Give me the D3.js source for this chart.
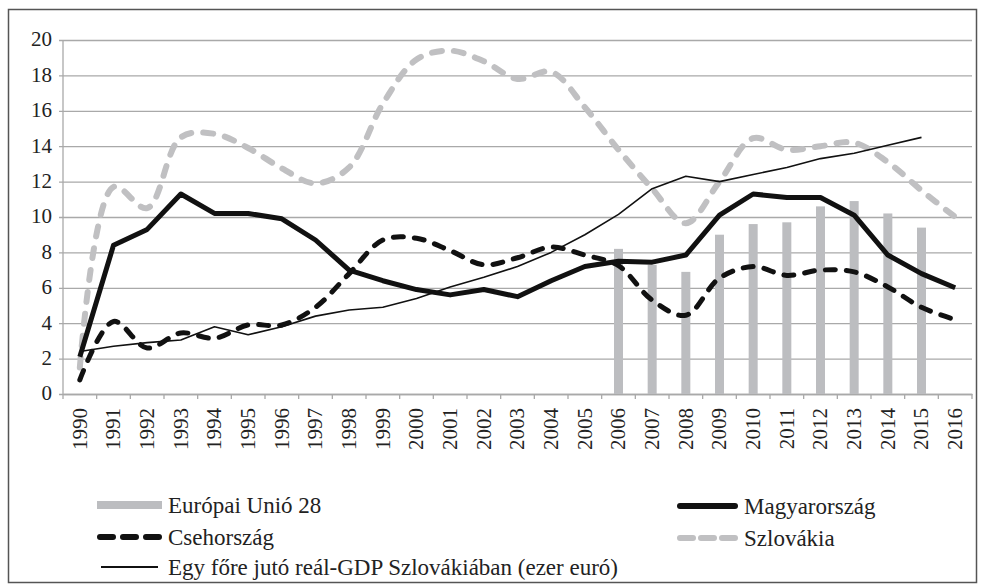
<!DOCTYPE html>
<html>
<head>
<meta charset="utf-8">
<script src="https://cdn.jsdelivr.net/npm/d3@7"></script>
<style>
  html, body { margin: 0; padding: 0; background: #fff; }
  svg { display: block; }
  svg text { font-family: "Liberation Serif", "DejaVu Serif", serif; fill: #222; }
</style>
</head>
<body>
<svg id="chart" width="982" height="587"></svg>
<script>
const years = ["1990","1991","1992","1993","1994","1995","1996","1997","1998","1999","2000","2001","2002","2003","2004","2005","2006","2007","2008","2009","2010","2011","2012","2013","2014","2015","2016"];
const yTicks = [0, 2, 4, 6, 8, 10, 12, 14, 16, 18, 20];

const euYears = ["2006","2007","2008","2009","2010","2011","2012","2013","2014","2015"];
const euValues = [8.2, 7.3, 6.9, 9.0, 9.6, 9.7, 10.6, 10.9, 10.2, 9.4];

const magyar = [2.1, 8.4, 9.3, 11.3, 10.2, 10.2, 9.9, 8.7, 7.0, 6.4, 5.9, 5.6, 5.9, 5.5, 6.4, 7.2, 7.5, 7.45, 7.85, 10.1, 11.3, 11.1, 11.1, 10.1, 7.85, 6.8, 6.0];
const cseh = [0.8, 4.1, 2.6, 3.45, 3.15, 3.9, 3.9, 4.9, 6.8, 8.7, 8.8, 8.1, 7.3, 7.7, 8.3, 7.85, 7.25, 5.3, 4.45, 6.55, 7.2, 6.7, 7.0, 6.9, 6.05, 4.9, 4.2];
const szlovakia = [1.5, 11.7, 10.5, 14.5, 14.7, 13.9, 12.75, 11.9, 12.8, 16.4, 18.9, 19.4, 18.8, 17.8, 18.2, 16.2, 13.8, 11.6, 9.65, 12.0, 14.45, 13.8, 14.0, 14.2, 13.1, 11.5, 10.0];
const gdpYears = years.slice(0, 26);
const gdp = [2.4, 2.7, 2.9, 3.05, 3.8, 3.35, 3.8, 4.4, 4.75, 4.9, 5.4, 6.05, 6.6, 7.2, 8.0, 9.0, 10.15, 11.6, 12.3, 12.0, 12.4, 12.8, 13.3, 13.6, 14.05, 14.5];

const legendLeft = ["Európai Unió 28", "Csehország", "Egy főre jutó reál-GDP Szlovákiában (ezer euró)"];
const legendRight = ["Magyarország", "Szlovákia"];

const svg = d3.select("#chart");
const X0 = 63, X1 = 972, Y0 = 394, Y1 = 40;
const gridColor = "#a9a9a9";

// frame
svg.append("rect").attr("x", 8.5).attr("y", 9.5).attr("width", 968).attr("height", 573)
  .attr("fill", "none").attr("stroke", "#555").attr("stroke-width", 1.5);

const x = d3.scaleBand().domain(years).range([X0, X1]).paddingInner(0).paddingOuter(0);
const y = d3.scaleLinear().domain([0, 20]).range([Y0, Y1]);

// y axis with gridlines
const yAxis = svg.append("g").attr("transform", `translate(${X0},0)`)
  .call(d3.axisLeft(y).tickValues(yTicks).tickFormat(d3.format("d")).tickSize(0).tickPadding(11));
yAxis.attr("font-family", null);
yAxis.select(".domain").remove();
yAxis.selectAll(".tick line").attr("x1", -4).attr("x2", X1 - X0)
  .attr("stroke", gridColor).attr("stroke-width", 1.3);
yAxis.selectAll(".tick text").attr("font-size", 21).attr("fill", "#222").attr("dy", "0.28em");

// vertical axis line
svg.append("line").attr("x1", X0).attr("x2", X0).attr("y1", Y1).attr("y2", Y0)
  .attr("stroke", gridColor).attr("stroke-width", 1.3);

// x axis
const xAxis = svg.append("g").attr("transform", `translate(0,${Y0})`)
  .call(d3.axisBottom(x).tickSize(0).tickPadding(0));
xAxis.attr("font-family", null);
xAxis.select(".domain").attr("stroke", gridColor).attr("stroke-width", 1.3);
xAxis.selectAll(".tick text")
  .attr("font-size", 21).attr("fill", "#222")
  .attr("text-anchor", "end")
  .attr("transform", "translate(0,14) rotate(-90)")
  .attr("x", 0).attr("y", 0).attr("dy", "0.33em");
// boundary ticks
const bounds = years.map(d => x(d)).concat([X1]);
svg.append("g").selectAll("line").data(bounds).join("line")
  .attr("x1", d => d).attr("x2", d => d).attr("y1", Y0).attr("y2", Y0 + 5)
  .attr("stroke", gridColor).attr("stroke-width", 1.3);

// bars
const barW = 9;
svg.append("g").selectAll("rect").data(euYears.map((d, i) => ({year: d, v: euValues[i]}))).join("rect")
  .attr("x", d => x(d.year) + x.bandwidth() / 2 - barW / 2)
  .attr("width", barW)
  .attr("y", d => y(d.v))
  .attr("height", d => Y0 - y(d.v))
  .attr("fill", "#bcbdc0");

const cx = d => x(d) + x.bandwidth() / 2;

function drawLine(yrs, vals, opts) {
  const gen = d3.line().x((d, i) => cx(yrs[i])).y(d => y(d)).curve(opts.curve || d3.curveLinear);
  svg.append("path").datum(vals).attr("d", gen)
    .attr("fill", "none").attr("stroke", opts.color).attr("stroke-width", opts.width)
    .attr("stroke-dasharray", opts.dash || null)
    .attr("stroke-linecap", opts.cap || "butt")
    .attr("stroke-linejoin", "round");
}

drawLine(years, szlovakia, {color: "#c0c0c2", width: 6, dash: "10,12", cap: "round", curve: d3.curveCatmullRom.alpha(0.5)});
drawLine(gdpYears, gdp, {color: "#111", width: 1.6});
drawLine(years, cseh, {color: "#111", width: 5, dash: "10,11", cap: "round", curve: d3.curveCatmullRom.alpha(0.5)});
drawLine(years, magyar, {color: "#111", width: 5});

// legend
const leg = svg.append("g");
function legendItem(x0, x1, yy, label, type) {
  if (type === "bar") {
    leg.append("rect").attr("x", x0).attr("y", yy - 4).attr("width", x1 - x0).attr("height", 8).attr("fill", "#bcbdc0");
  } else if (type === "cseh") {
    leg.append("line").attr("x1", x0 + 3).attr("x2", x1 - 3).attr("y1", yy).attr("y2", yy)
      .attr("stroke", "#111").attr("stroke-width", 6).attr("stroke-linecap", "round").attr("stroke-dasharray", "13,10");
  } else if (type === "szlov") {
    leg.append("line").attr("x1", x0 + 3).attr("x2", x1 - 3).attr("y1", yy).attr("y2", yy)
      .attr("stroke", "#c0c0c2").attr("stroke-width", 6).attr("stroke-linecap", "round").attr("stroke-dasharray", "13,8");
  } else if (type === "magyar") {
    leg.append("line").attr("x1", x0 + 3).attr("x2", x1 - 3).attr("y1", yy).attr("y2", yy)
      .attr("stroke", "#111").attr("stroke-width", 6).attr("stroke-linecap", "round");
  } else {
    leg.append("line").attr("x1", x0 + 4).attr("x2", x1 - 4).attr("y1", yy).attr("y2", yy)
      .attr("stroke", "#111").attr("stroke-width", 1.8);
  }
  leg.append("text").attr("x", x1 + 6).attr("y", yy).attr("dy", "0.34em")
    .attr("font-size", 23).attr("fill", "#222").text(label);
}
legendItem(97, 162, 505, legendLeft[0], "bar");
legendItem(97, 162, 537, legendLeft[1], "cseh");
legendItem(97, 162, 567, legendLeft[2], "gdp");
legendItem(677, 738, 506, legendRight[0], "magyar");
legendItem(677, 738, 538, legendRight[1], "szlov");
</script>
</body>
</html>
